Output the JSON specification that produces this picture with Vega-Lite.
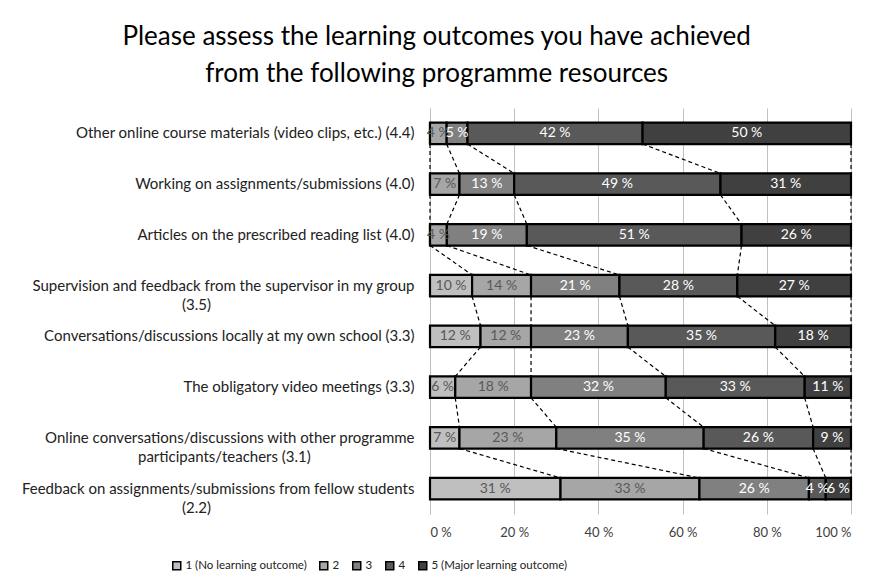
{
  "$schema": "https://vega.github.io/schema/vega-lite/v6.json",
  "autosize": {"type": "none"},
  "width": 421,
  "height": 406,
  "padding": {"left": 430, "top": 108, "right": 26, "bottom": 72},
  "background": "white",
  "title": {
    "text": ["Please assess the learning outcomes you have achieved", "from the following programme resources"],
    "anchor": "middle",
    "frame": "bounds",
    "font": "Lato",
    "fontSize": 26,
    "fontWeight": "normal",
    "color": "#000000",
    "lineHeight": 37,
    "offset": 21
  },
  "data": {
    "values": [
      {"item": "Other online course materials (video clips, etc.) (4.4)", "rank": 1, "level": 1, "value": 0},
      {"item": "Other online course materials (video clips, etc.) (4.4)", "rank": 1, "level": 2, "value": 4},
      {"item": "Other online course materials (video clips, etc.) (4.4)", "rank": 1, "level": 3, "value": 5},
      {"item": "Other online course materials (video clips, etc.) (4.4)", "rank": 1, "level": 4, "value": 42},
      {"item": "Other online course materials (video clips, etc.) (4.4)", "rank": 1, "level": 5, "value": 50},
      {"item": "Working on assignments/submissions (4.0)", "rank": 2, "level": 1, "value": 0},
      {"item": "Working on assignments/submissions (4.0)", "rank": 2, "level": 2, "value": 7},
      {"item": "Working on assignments/submissions (4.0)", "rank": 2, "level": 3, "value": 13},
      {"item": "Working on assignments/submissions (4.0)", "rank": 2, "level": 4, "value": 49},
      {"item": "Working on assignments/submissions (4.0)", "rank": 2, "level": 5, "value": 31},
      {"item": "Articles on the prescribed reading list (4.0)", "rank": 3, "level": 1, "value": 0},
      {"item": "Articles on the prescribed reading list (4.0)", "rank": 3, "level": 2, "value": 4},
      {"item": "Articles on the prescribed reading list (4.0)", "rank": 3, "level": 3, "value": 19},
      {"item": "Articles on the prescribed reading list (4.0)", "rank": 3, "level": 4, "value": 51},
      {"item": "Articles on the prescribed reading list (4.0)", "rank": 3, "level": 5, "value": 26},
      {"item": "Supervision and feedback from the supervisor in my group\n(3.5)", "rank": 4, "level": 1, "value": 10},
      {"item": "Supervision and feedback from the supervisor in my group\n(3.5)", "rank": 4, "level": 2, "value": 14},
      {"item": "Supervision and feedback from the supervisor in my group\n(3.5)", "rank": 4, "level": 3, "value": 21},
      {"item": "Supervision and feedback from the supervisor in my group\n(3.5)", "rank": 4, "level": 4, "value": 28},
      {"item": "Supervision and feedback from the supervisor in my group\n(3.5)", "rank": 4, "level": 5, "value": 27},
      {"item": "Conversations/discussions locally at my own school (3.3)", "rank": 5, "level": 1, "value": 12},
      {"item": "Conversations/discussions locally at my own school (3.3)", "rank": 5, "level": 2, "value": 12},
      {"item": "Conversations/discussions locally at my own school (3.3)", "rank": 5, "level": 3, "value": 23},
      {"item": "Conversations/discussions locally at my own school (3.3)", "rank": 5, "level": 4, "value": 35},
      {"item": "Conversations/discussions locally at my own school (3.3)", "rank": 5, "level": 5, "value": 18},
      {"item": "The obligatory video meetings (3.3)", "rank": 6, "level": 1, "value": 6},
      {"item": "The obligatory video meetings (3.3)", "rank": 6, "level": 2, "value": 18},
      {"item": "The obligatory video meetings (3.3)", "rank": 6, "level": 3, "value": 32},
      {"item": "The obligatory video meetings (3.3)", "rank": 6, "level": 4, "value": 33},
      {"item": "The obligatory video meetings (3.3)", "rank": 6, "level": 5, "value": 11},
      {"item": "Online conversations/discussions with other programme\nparticipants/teachers (3.1)", "rank": 7, "level": 1, "value": 7},
      {"item": "Online conversations/discussions with other programme\nparticipants/teachers (3.1)", "rank": 7, "level": 2, "value": 23},
      {"item": "Online conversations/discussions with other programme\nparticipants/teachers (3.1)", "rank": 7, "level": 3, "value": 35},
      {"item": "Online conversations/discussions with other programme\nparticipants/teachers (3.1)", "rank": 7, "level": 4, "value": 26},
      {"item": "Online conversations/discussions with other programme\nparticipants/teachers (3.1)", "rank": 7, "level": 5, "value": 9},
      {"item": "Feedback on assignments/submissions from fellow students\n(2.2)", "rank": 8, "level": 1, "value": 31},
      {"item": "Feedback on assignments/submissions from fellow students\n(2.2)", "rank": 8, "level": 2, "value": 33},
      {"item": "Feedback on assignments/submissions from fellow students\n(2.2)", "rank": 8, "level": 3, "value": 26},
      {"item": "Feedback on assignments/submissions from fellow students\n(2.2)", "rank": 8, "level": 4, "value": 4},
      {"item": "Feedback on assignments/submissions from fellow students\n(2.2)", "rank": 8, "level": 5, "value": 6}
    ]
  },
  "transform": [
    {"stack": "value", "groupby": ["item"], "sort": [{"field": "level", "order": "ascending"}], "offset": "normalize", "as": ["x0", "x1"]}
  ],
  "encoding": {
    "y": {
      "field": "item",
      "type": "nominal",
      "sort": {"field": "rank", "op": "min", "order": "ascending"},
      "scale": {"paddingInner": 0.58, "paddingOuter": 0.29},
      "axis": {
        "title": null,
        "labelExpr": "length(split(datum.label, '\\n')) > 1 ? [split(datum.label, '\\n')[0], pad(split(datum.label, '\\n')[1], length(split(datum.label, '\\n')[1]) + round((length(split(datum.label, '\\n')[0]) - length(split(datum.label, '\\n')[1])) * 1.04), '\u00a0') + '\u200b'] : datum.label",
        "labelFont": "Lato",
        "labelFontSize": 15,
        "labelColor": "#222222",
        "labelPadding": 16,
        "labelLimit": 700,
        "labelLineHeight": 19,
        "ticks": false,
        "domain": true,
        "domainColor": "#bfbfbf",
        "grid": false
      }
    }
  },
  "layer": [
    {
      "mark": {"type": "bar", "stroke": "#000000", "strokeWidth": 2.2},
      "encoding": {
        "x": {
          "field": "x0",
          "type": "quantitative",
          "scale": {"domain": [0, 1]},
          "axis": {
            "title": null,
            "values": [0, 0.2, 0.4, 0.6, 0.8, 1],
            "labelExpr": "format(datum.value * 100, 'd') + ' %'",
            "labelFont": "Lato",
            "labelFontSize": 13,
            "labelColor": "#404040",
            "labelPadding": 12,
            "domain": false,
            "ticks": false,
            "grid": true,
            "gridColor": "#c0c0c0",
            "gridWidth": 1
          }
        },
        "x2": {"field": "x1"},
        "color": {
          "field": "level",
          "type": "nominal",
          "scale": {"domain": [1, 2, 3, 4, 5], "range": ["#bfbfbf", "#a6a6a6", "#808080", "#595959", "#404040"]},
          "legend": {
            "title": null,
            "orient": "none",
            "legendX": -259,
            "legendY": 452,
            "direction": "horizontal",
            "symbolType": "square",
            "symbolSize": 64,
            "symbolStrokeColor": "#000000",
            "symbolStrokeWidth": 1.5,
            "labelFont": "Lato",
            "labelFontSize": 11.5,
            "labelColor": "#222222",
            "labelOffset": 3,
            "columnPadding": 9,
            "gridAlign": "none",
            "labelExpr": "datum.label == '1' ? '1 (No learning outcome)' : datum.label == '5' ? '5 (Major learning outcome)' : datum.label"
          }
        }
      }
    },
    {
      "transform": [
        {"window": [{"op": "lead", "field": "x1", "as": "nx1"}, {"op": "lead", "field": "item", "as": "nitem"}], "groupby": ["level"], "sort": [{"field": "rank", "order": "ascending"}]},
        {"filter": "datum.nitem != null"}
      ],
      "mark": {"type": "rule", "stroke": "#000000", "strokeWidth": 1.2, "strokeDash": [4, 3]},
      "encoding": {
        "x": {"field": "x1", "type": "quantitative"},
        "x2": {"field": "nx1"},
        "y": {"field": "item", "type": "nominal", "sort": {"field": "rank", "op": "min", "order": "ascending"}, "bandPosition": 1},
        "y2": {"field": "nitem", "bandPosition": 0}
      }
    },
    {
      "transform": [
        {"filter": "datum.value > 0"},
        {"calculate": "(datum.x0 + datum.x1) / 2", "as": "xm"},
        {"calculate": "datum.value + ' %'", "as": "lbl"}
      ],
      "mark": {"type": "text", "font": "Lato", "fontSize": 14, "align": "center", "baseline": "middle"},
      "encoding": {
        "x": {"field": "xm", "type": "quantitative"},
        "text": {"field": "lbl"},
        "color": {"condition": {"test": "datum.level <= 2", "value": "#595959"}, "value": "#ffffff"}
      }
    }
  ],
  "config": {"view": {"stroke": null}}
}
